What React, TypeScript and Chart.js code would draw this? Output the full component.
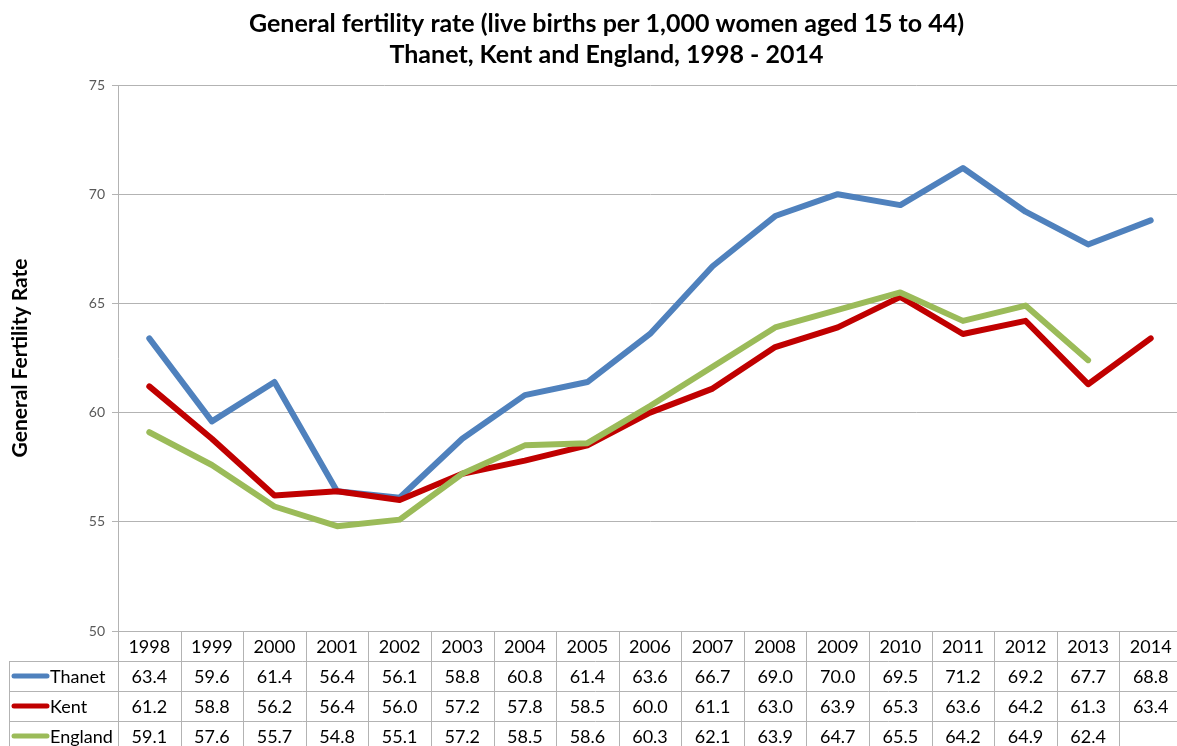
import React, { useEffect, useRef } from 'react';
import { Chart, registerables } from 'chart.js';

Chart.register(...registerables);

const years = ['1998', '1999', '2000', '2001', '2002', '2003', '2004', '2005', '2006', '2007', '2008', '2009', '2010', '2011', '2012', '2013', '2014'];
const thanet = [63.4, 59.6, 61.4, 56.4, 56.1, 58.8, 60.8, 61.4, 63.6, 66.7, 69.0, 70.0, 69.5, 71.2, 69.2, 67.7, 68.8];
const kent = [61.2, 58.8, 56.2, 56.4, 56.0, 57.2, 57.8, 58.5, 60.0, 61.1, 63.0, 63.9, 65.3, 63.6, 64.2, 61.3, 63.4];
const england = [59.1, 57.6, 55.7, 54.8, 55.1, 57.2, 58.5, 58.6, 60.3, 62.1, 63.9, 64.7, 65.5, 64.2, 64.9, 62.4, null];
const seriesNames = ['Thanet', 'Kent', 'England'];
const seriesColors = ['#4F81BD', '#C00000', '#9BBB59'];
const titleLines = ['General fertility rate (live births per 1,000 women aged 15 to 44)', 'Thanet, Kent and England, 1998 - 2014'];
const yTitle = 'General Fertility Rate';
const yMin = 50;
const yMax = 75;
const yStep = 5;

const FONT = 'Lato, "Open Sans", sans-serif';
const GRID = '#b3b3b3';

const titlePlugin = {
  id: 'customTitle',
  afterDraw(chart: any) {
    const ctx = chart.ctx;
    ctx.save();
    ctx.fillStyle = '#000';
    ctx.font = `bold 25px ${FONT}`;
    ctx.textAlign = 'center';
    ctx.textBaseline = 'alphabetic';
    const cx = (chart.width + 28) / 2;
    ctx.fillText(titleLines[0], cx, 32);
    ctx.fillText(titleLines[1], cx, 63);
    ctx.restore();
  },
};

const tablePlugin = {
  id: 'dataTable',
  afterDraw(chart: any) {
    const { ctx, chartArea } = chart;
    const x = chart.scales.x;
    const n = years.length;
    const colW = (chartArea.right - chartArea.left) / n;
    const top = Math.round(chartArea.bottom);
    const rowH = 30;
    const tableLeft = 9;
    const bottom = top + rowH * 4;
    const line = (x1: number, y1: number, x2: number, y2: number) => {
      ctx.beginPath();
      ctx.moveTo(x1, y1);
      ctx.lineTo(x2, y2);
      ctx.stroke();
    };
    ctx.save();
    ctx.strokeStyle = GRID;
    ctx.lineWidth = 1;
    line(chartArea.left, top + 0.5, chartArea.right, top + 0.5);
    for (let r = 1; r <= 3; r++) {
      line(tableLeft, top + r * rowH + 0.5, chartArea.right, top + r * rowH + 0.5);
    }
    for (let i = 0; i <= n; i++) {
      const xb = Math.round(chartArea.left + i * colW) + 0.5;
      line(xb, top, xb, bottom);
    }
    line(tableLeft + 0.5, top + rowH, tableLeft + 0.5, bottom);

    ctx.fillStyle = '#000';
    ctx.font = `18px ${FONT}`;
    ctx.textAlign = 'center';
    ctx.textBaseline = 'middle';
    years.forEach((yr, i) => {
      ctx.fillText(yr, x.getPixelForValue(i), top + rowH / 2 + 1);
    });
    chart.data.datasets.forEach((ds: any, r: number) => {
      const cy = top + rowH * (r + 1) + rowH / 2 + 1;
      ds.data.forEach((v: number | null, i: number) => {
        if (v === null || v === undefined) return;
        ctx.fillText(v.toFixed(1), x.getPixelForValue(i), cy);
      });
      ctx.save();
      ctx.strokeStyle = seriesColors[r];
      ctx.lineWidth = 5;
      ctx.lineCap = 'round';
      line(14, cy - 1, 47, cy - 1);
      ctx.restore();
      ctx.textAlign = 'left';
      ctx.fillText(seriesNames[r], 50, cy);
      ctx.textAlign = 'center';
    });
    ctx.restore();
  },
};

export default function App() {
  const ref = useRef<HTMLCanvasElement | null>(null);
  useEffect(() => {
    document.body.style.margin = '0';
    document.body.style.overflow = 'hidden';
    const seriesData = [thanet, kent, england];
    const chart = new Chart(ref.current as HTMLCanvasElement, {
      type: 'line',
      data: {
        labels: years,
        datasets: seriesNames.map((name, i) => ({
          label: name,
          data: seriesData[i],
          borderColor: seriesColors[i],
          backgroundColor: seriesColors[i],
          borderWidth: 6,
          pointRadius: 0,
          pointHoverRadius: 0,
          tension: 0,
          fill: false,
          spanGaps: false,
          borderJoinStyle: 'round' as const,
          borderCapStyle: 'round' as const,
          order: 3 - i,
        })),
      },
      options: {
        responsive: false,
        animation: false,
        layout: { padding: { top: 85, bottom: 115, left: 0, right: 3 } },
        plugins: {
          legend: { display: false },
          title: { display: false },
          tooltip: { enabled: false },
        },
        scales: {
          x: {
            type: 'category',
            display: false,
            offset: true,
          },
          y: {
            min: yMin,
            max: yMax,
            afterFit: (scale: any) => {
              scale.width = 118;
            },
            ticks: {
              stepSize: yStep,
              color: '#595959',
              padding: 7,
              font: { family: FONT, size: 14 },
            },
            grid: {
              color: GRID,
              tickLength: 6,
              drawTicks: true,
            },
            border: { color: GRID },
            title: {
              display: true,
              text: yTitle,
              color: '#000',
              font: { family: FONT, size: 21, weight: 'bold' },
              padding: { top: 8, bottom: 0 },
            },
          },
        },
      },
      plugins: [titlePlugin, tablePlugin],
    });
    return () => chart.destroy();
  }, []);
  return (
    <div style={{ width: 1177, height: 746, overflow: 'hidden', position: 'relative' }}>
      <canvas ref={ref} width={1185} height={746} style={{ display: 'block' }} />
    </div>
  );
}
